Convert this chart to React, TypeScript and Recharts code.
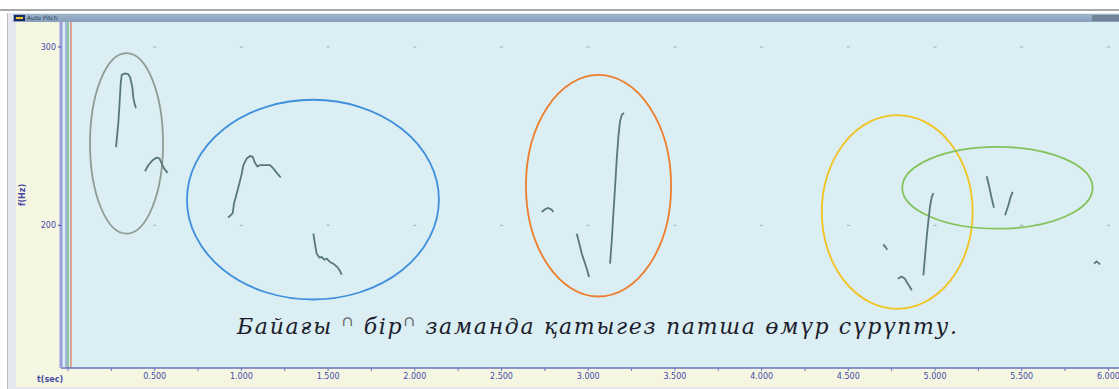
import {
  ComposedChart,
  Line,
  Scatter,
  XAxis,
  YAxis,
  ReferenceArea,
  ReferenceLine,
} from "recharts";

// pitch contour pieces, [time sec, f Hz]
const seg1 = [
  [0.277, 243.8], [0.29, 257.3], [0.296, 266.3], [0.304, 279.8], [0.31, 284.3],
  [0.329, 285.2], [0.346, 284.8], [0.358, 283.1], [0.371, 277.5], [0.377, 271.3],
  [0.386, 267.4], [0.392, 265.7],
];
const seg2 = [
  [0.444, 230.3], [0.463, 233.7], [0.488, 236.5], [0.512, 238.0], [0.527, 237.5],
  [0.54, 234.7], [0.554, 231.9], [0.574, 229.4],
];
const seg3 = [
  [0.924, 204.3], [0.95, 206.9], [0.957, 212.2], [0.973, 217.8], [0.988, 223.4],
  [1.002, 229.0], [1.011, 233.7], [1.031, 237.5], [1.05, 238.9], [1.065, 238.4],
  [1.078, 235.0], [1.092, 233.1], [1.107, 233.7], [1.136, 233.7], [1.165, 233.7],
  [1.184, 231.9], [1.204, 229.4], [1.227, 226.8],
];
const seg4 = [
  [1.415, 195.3], [1.424, 189.7], [1.434, 184.1], [1.449, 181.9], [1.463, 182.2],
  [1.478, 180.7], [1.492, 181.3], [1.511, 179.4], [1.53, 178.5], [1.553, 176.6],
  [1.569, 174.3], [1.578, 172.3],
];
const seg5 = [
  [2.732, 207.5], [2.751, 209.0], [2.77, 209.7], [2.789, 208.8], [2.799, 207.5],
];
const seg6 = [
  [2.934, 195.3], [2.949, 189.7], [2.963, 184.1], [2.982, 178.5], [2.995, 174.7],
  [3.005, 171.0],
];
const seg7 = [
  [3.126, 178.5], [3.136, 191.6], [3.145, 206.6], [3.155, 221.5], [3.164, 236.5],
  [3.174, 249.6], [3.183, 258.0], [3.193, 261.8], [3.206, 263.1],
];
const seg8 = [[4.702, 189.3], [4.714, 187.8], [4.725, 186.3]];
const seg9 = [
  [4.785, 170.0], [4.808, 171.3], [4.827, 170.0], [4.84, 167.6], [4.856, 165.3],
  [4.866, 163.5],
];
const seg10 = [
  [4.933, 171.9], [4.942, 182.2], [4.952, 193.4], [4.962, 202.8], [4.971, 210.3],
  [4.981, 215.9], [4.991, 218.1],
];
const seg11 = [[5.298, 227.5], [5.313, 221.5], [5.327, 215.0], [5.34, 209.9]];
const seg12 = [[5.404, 205.6], [5.423, 211.2], [5.436, 215.9], [5.448, 218.7]];
const seg13 = [[5.917, 178.5], [5.932, 179.8], [5.952, 178.1]];

const segments = [seg1, seg2, seg3, seg4, seg5, seg6, seg7, seg8, seg9, seg10, seg11, seg12, seg13];

// hand drawn rings: t1, t2 / f top, f bottom / colour
const ringTimes = [
  [0.127, 0.548], [0.686, 2.139], [2.641, 3.478], [4.347, 5.217], [4.811, 5.909],
];
const ringFreqs = [
  [296.5, 195.3], [270.4, 158.4], [284.3, 160.1], [261.8, 153.2], [244.0, 198.1],
];
const ringColors = ["#8f9c94", "#3f8fdc", "#ee7d2c", "#f3c21f", "#84c25a"];

const timeTicks = [
  0, 0.25, 0.5, 0.75, 1, 1.25, 1.5, 1.75, 2, 2.25, 2.5, 2.75, 3, 3.25, 3.5, 3.75,
  4, 4.25, 4.5, 4.75, 5, 5.25, 5.5, 5.75, 6,
];
const freqTicks = [200, 300];

const toRows = (seg: number[][]) => seg.map(([t, hz]) => ({ t, hz }));

const gridMarks = timeTicks
  .filter((t) => t > 0 && Math.round(t * 2) === t * 2)
  .flatMap((t) => freqTicks.map((hz) => ({ t, hz })));

const Ring = (color: string) => (props: any) => {
  const { x, y, width, height } = props;
  return (
    <ellipse
      cx={x + width / 2}
      cy={y + height / 2}
      rx={width / 2}
      ry={height / 2}
      fill="none"
      stroke={color}
      strokeWidth={1.8}
    />
  );
};

const GridDot = (props: any) => (
  <rect x={props.cx - 1.5} y={props.cy - 0.5} width={3} height={1} fill="#9aaeb4" />
);

const blue = "#4848a8";
const capSign = { fontSize: 14, fontStyle: "normal", color: "#555" };

export default function App() {
  return (
    <div
      style={{
        position: "absolute",
        left: 0,
        top: 0,
        width: 1119,
        height: 389,
        background: "#fff",
        overflow: "hidden",
        fontFamily: "'DejaVu Sans', sans-serif",
      }}
    >
      {/* window chrome */}
      <div style={{ position: "absolute", left: 0, top: 9, width: 1119, height: 2, background: "#a9a9a9" }} />
      <div style={{ position: "absolute", left: 7, top: 13, width: 1112, height: 376, background: "#e4e8ee", borderLeft: "1px solid #b8bcc4" }} />
      <div
        style={{
          position: "absolute", left: 13, top: 14, width: 1106, height: 8,
          background: "linear-gradient(#9db4cc, #87a0bc)",
        }}
      />
      <div style={{ position: "absolute", left: 14, top: 15, width: 11, height: 6, background: "#1c2a6a" }} />
      <div style={{ position: "absolute", left: 16, top: 17, width: 7, height: 2, background: "#e8d020" }} />
      <div style={{ position: "absolute", left: 27, top: 14, fontSize: 6, lineHeight: "8px", color: "#2c3c58" }}>
        Auto Pitch
      </div>
      <div style={{ position: "absolute", left: 1092, top: 15, width: 27, height: 6, background: "#5c6a7a", opacity: 0.6 }} />
      {/* side and bottom panels */}
      <div style={{ position: "absolute", left: 16, top: 22, width: 46, height: 365, background: "#f4f6e1" }} />
      <div style={{ position: "absolute", left: 16, top: 368, width: 1103, height: 19, background: "#f4f6e1" }} />
      {/* plot area */}
      <div style={{ position: "absolute", left: 62, top: 22, width: 1057, height: 346, background: "#daeef3" }} />
      <div
        style={{
          position: "absolute", left: 37, top: 375, fontSize: 8, fontWeight: "bold", color: blue,
        }}
      >
        t(sec)
      </div>

      <div style={{ position: "absolute", left: 0, top: 22 }}>
        <ComposedChart width={1119} height={367} margin={{ top: 0, right: 0, bottom: 0, left: 0 }}>
          <XAxis
            type="number"
            dataKey="t"
            domain={[-0.0404, 6.061]}
            ticks={timeTicks}
            allowDataOverflow
            height={21}
            interval={0}
            tickSize={3}
            tickFormatter={(v: number) => (v > 0 && Math.round(v * 2) === v * 2 ? v.toFixed(3) : "")}
            tick={{ fontSize: 8, fill: blue, fontFamily: "DejaVu Sans" }}
            axisLine={{ stroke: "#6a72c0", strokeWidth: 1.5 }}
            tickLine={{ stroke: "#6a72c0" }}
          />
          <YAxis
            type="number"
            dataKey="hz"
            domain={[120, 314]}
            ticks={freqTicks}
            allowDataOverflow
            width={61}
            tickSize={3}
            tick={{ fontSize: 8, fill: blue, fontFamily: "DejaVu Sans" }}
            axisLine={{ stroke: "#9c9cda", strokeWidth: 3 }}
            tickLine={{ stroke: blue }}
            label={{
              value: "f(Hz)", angle: -90, position: "insideLeft", offset: 22,
              style: { fontSize: 8, fontWeight: "bold", fill: blue, textAnchor: "middle" },
            }}
          />
          <ReferenceLine x={-0.0115} stroke="#7480c8" strokeWidth={1} />
          <ReferenceLine x={0} stroke="#5aa86a" strokeWidth={1.2} />
          <ReferenceLine x={0.017} stroke="#e07050" strokeWidth={1.2} />
          <Scatter data={gridMarks} dataKey="hz" shape={GridDot} isAnimationActive={false} />
          {ringTimes.map(([t1, t2], i) => (
            <ReferenceArea
              key={"r" + i}
              x1={t1}
              x2={t2}
              y1={ringFreqs[i][1]}
              y2={ringFreqs[i][0]}
              shape={Ring(ringColors[i])}
            />
          ))}
          {segments.map((seg, i) => (
            <Line
              key={"s" + i}
              data={toRows(seg)}
              dataKey="hz"
              type="linear"
              stroke="#58777a"
              strokeWidth={1.8}
              dot={false}
              isAnimationActive={false}
            />
          ))}
        </ComposedChart>
      </div>

      <div
        style={{
          position: "absolute",
          left: 237,
          top: 308,
          fontFamily: "'DejaVu Serif', serif",
          fontStyle: "italic",
          fontSize: 22,
          lineHeight: "26px",
          color: "#1c1c2c",
          whiteSpace: "nowrap",
          letterSpacing: 1.7,
        }}
      >
        Байағы <sup style={capSign}>∩</sup> бір<sup style={capSign}>∩</sup> заманда қатыгез патша өмүр сүрүпту.
      </div>
    </div>
  );
}
